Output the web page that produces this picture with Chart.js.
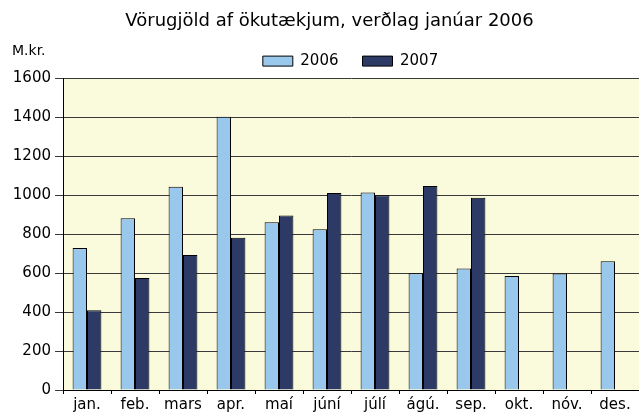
<!DOCTYPE html>
<html>
<head>
<meta charset="utf-8">
<script src="https://cdn.jsdelivr.net/npm/chart.js@4/dist/chart.umd.min.js"></script>
<style>
  html, body { margin: 0; padding: 0; background: #fff; }
  #wrap { width: 639px; height: 416px; }
</style>
</head>
<body>
<div id="wrap"><canvas id="chart"></canvas></div>
<script>
const months = ["jan.", "feb.", "mars", "apr.", "maí", "júní", "júlí", "ágú.", "sep.", "okt.", "nóv.", "des."];
const values2006 = [730, 883, 1044, 1404, 862, 826, 1015, 600, 624, 586, 598, 662];
const values2007 = [410, 576, 694, 782, 897, 1012, 1001, 1048, 988, null, null, null];
const yTicks = [0, 200, 400, 600, 800, 1000, 1200, 1400, 1600];

Chart.defaults.font.family = "'DejaVu Sans', Verdana, sans-serif";
Chart.defaults.color = "#000";

const plotBackground = {
  id: "plotBackground",
  afterLayout(chart) {
    // title and legend sit a bit right of the canvas centre in the original
    chart.titleBlock.left += 10;
    chart.titleBlock.right += 10;
    chart.legend.left += 31;
    chart.legend.right += 31;
  },
  beforeDraw(chart) {
    const { ctx, chartArea } = chart;
    ctx.save();
    ctx.fillStyle = "#FAFADC";
    ctx.fillRect(chartArea.left, chartArea.top, chartArea.right - chartArea.left, chartArea.bottom - chartArea.top);
    ctx.restore();
  },
  afterDraw(chart) {
    const { ctx, chartArea } = chart;
    ctx.save();
    ctx.fillStyle = "#000";
    ctx.font = "14px 'DejaVu Sans', Verdana, sans-serif";
    ctx.textAlign = "left";
    ctx.textBaseline = "middle";
    ctx.fillText("M.kr.", 12, chartArea.top - 27);
    ctx.restore();
  },
};

const ctx = document.getElementById("chart").getContext("2d");
new Chart(ctx, {
  type: "bar",
  data: {
    labels: months,
    datasets: [
      {
        label: "2006",
        data: values2006,
        backgroundColor: "#99C8EC",
        borderColor: "#000",
        borderWidth: 1,
        categoryPercentage: 0.6,
        barPercentage: 1,
      },
      {
        label: "2007",
        data: values2007,
        backgroundColor: "#2E3A66",
        borderColor: "#000",
        borderWidth: 1,
        categoryPercentage: 0.6,
        barPercentage: 1,
      },
    ],
  },
  options: {
    responsive: true,
    maintainAspectRatio: false,
    animation: false,
    layout: { padding: { left: 0, right: 0, top: 1, bottom: 0 } },
    scales: {
      y: {
        min: 0,
        max: 1600,
        afterBuildTicks: (axis) => {
          axis.ticks = yTicks.map((v) => ({ value: v }));
        },
        afterFit: (axis) => {
          axis.width = 63;
        },
        ticks: { font: { size: 15 }, padding: 4, callback: (v) => String(v) },
        grid: { color: "#3a3a3a", tickLength: 8 },
        border: { color: "#000", width: 1 },
      },
      x: {
        afterFit: (axis) => {
          axis.height = 26;
        },
        ticks: { font: { size: 15 }, padding: 2, maxRotation: 0 },
        grid: { drawOnChartArea: false, color: "#000", tickLength: 4 },
        border: { color: "#000", width: 1 },
      },
    },
    plugins: {
      title: {
        display: true,
        text: "Vörugjöld af ökutækjum, verðlag janúar 2006",
        font: { size: 18, weight: "normal" },
        padding: { top: 10, bottom: -3 },
      },
      legend: {
        labels: {
          boxWidth: 30,
          boxHeight: 10,
          font: { size: 15 },
          padding: 24,
        },
      },
      tooltip: { enabled: false },
    },
  },
  plugins: [plotBackground],
});
</script>
</body>
</html>
